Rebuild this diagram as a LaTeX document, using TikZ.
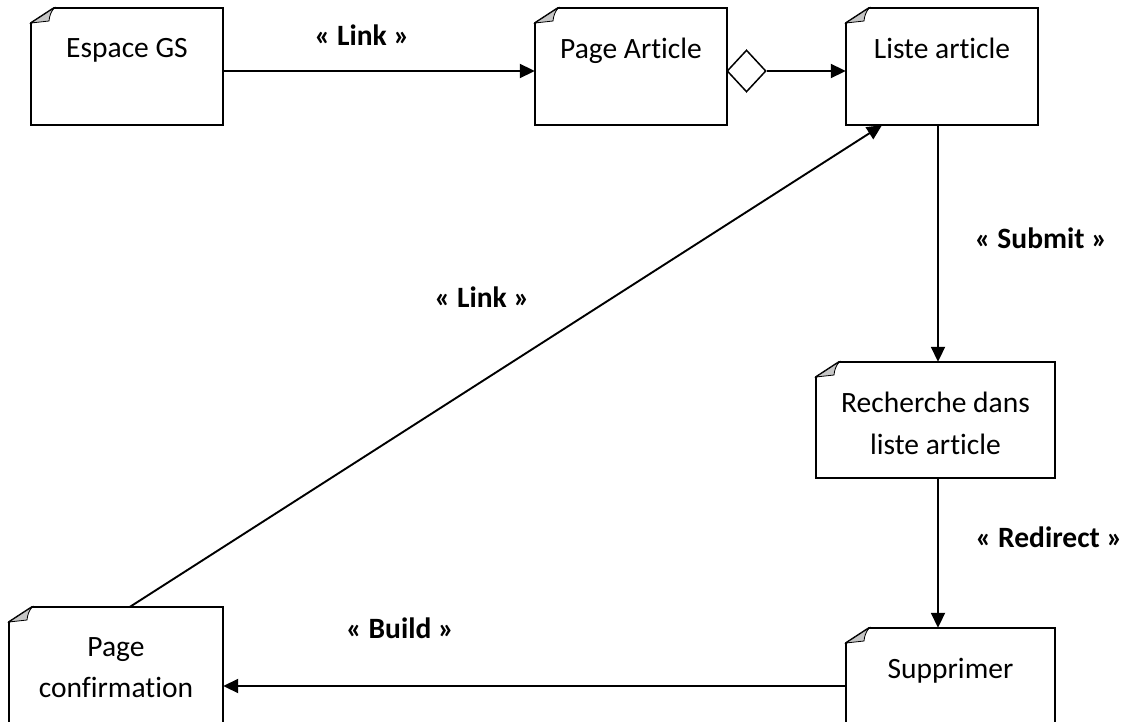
\documentclass[tikz,border=0pt]{standalone}
\usepackage{fontspec}
\setmainfont{Carlito}[Ligatures=NoCommon]
\usetikzlibrary{arrows.meta,calc,shapes.geometric}
\begin{document}
\begin{tikzpicture}[x=1pt,y=-1pt,
  conn/.style={line width=1.9pt},
  arr/.style={conn,-{Triangle[length=15pt,width=14pt]}},
  boxtext/.style={font=\fontsize{29.5}{41.5}\selectfont,align=center,inner sep=0pt,anchor=north},
  lbl/.style={font=\fontsize{29.5}{33}\selectfont\bfseries,inner sep=0pt},
  outline/.style={line width=1.9pt,fill=white},
  fold/.style={fill=gray!45,draw,line width=0.8pt}]
\useasboundingbox (0,0) rectangle (1129,722);
\clip (0,0) rectangle (1129,722);
% doc box macro: name, x1, y1, x2, y2, text
\newcommand\docbox[6]{%
  \node[inner sep=0pt,minimum width=#4-#2,minimum height=#5-#3] (#1) at ({(#2+#4)/2},{(#3+#5)/2}) {};
  \draw[outline] ({#2+23},#3) -- (#4,#3) -- (#4,#5) -- (#2,#5) -- (#2,{#3+15}) -- cycle;
  \draw[fold] ({#2+23},#3) -- (#2,{#3+15}) -- ({#2+18},{#3+13}) to[bend left=15] cycle;
  \node[boxtext] (#1-t) at ({(#2+#4)/2},{#3+30}) {#6};
}
\docbox{espace}{31}{8}{223}{125}{Espace GS}
\docbox{page}{535}{8}{727}{125}{Page Article}
\docbox{liste}{846}{8}{1038}{125}{Liste article}
\docbox{rech}{816}{362}{1055}{478}{Recherche dans\\liste article}
\docbox{supp}{846}{628}{1055}{760}{Supprimer}
\docbox{conf}{9}{607}{223}{760}{Page\\confirmation}
% aggregation diamond
\node[diamond,draw,line width=1.5pt,fill=white,inner sep=0pt,minimum width=39pt,minimum height=42pt] (dia) at (746.5,71) {};
% connectors
\draw[arr] (espace.east |- 0,71) -- (page.west |- 0,71);
\draw[arr] (dia.east) -- (liste.west |- 0,71);
\draw[arr] (liste.south -| 938,0) -- (rech.north -| 938,0);
\draw[arr] (rech.south -| 938,0) -- (supp.north -| 938,0);
\draw[arr] (supp.west |- 0,686) -- (conf.east |- 0,686);
\draw[arr] (conf.north -| 130,0) -- (liste.south -| 882,0);
% labels
\node[lbl] (l1) at (362,35) {« Link »};
\node[lbl] (l2) at (1041,238) {« Submit »};
\node[lbl] (l3) at (482,297) {« Link »};
\node[lbl] (l4) at (1049,537) {« Redirect »};
\node[lbl] (l5) at (400,628) {« Build »};
\end{tikzpicture}
\end{document}
